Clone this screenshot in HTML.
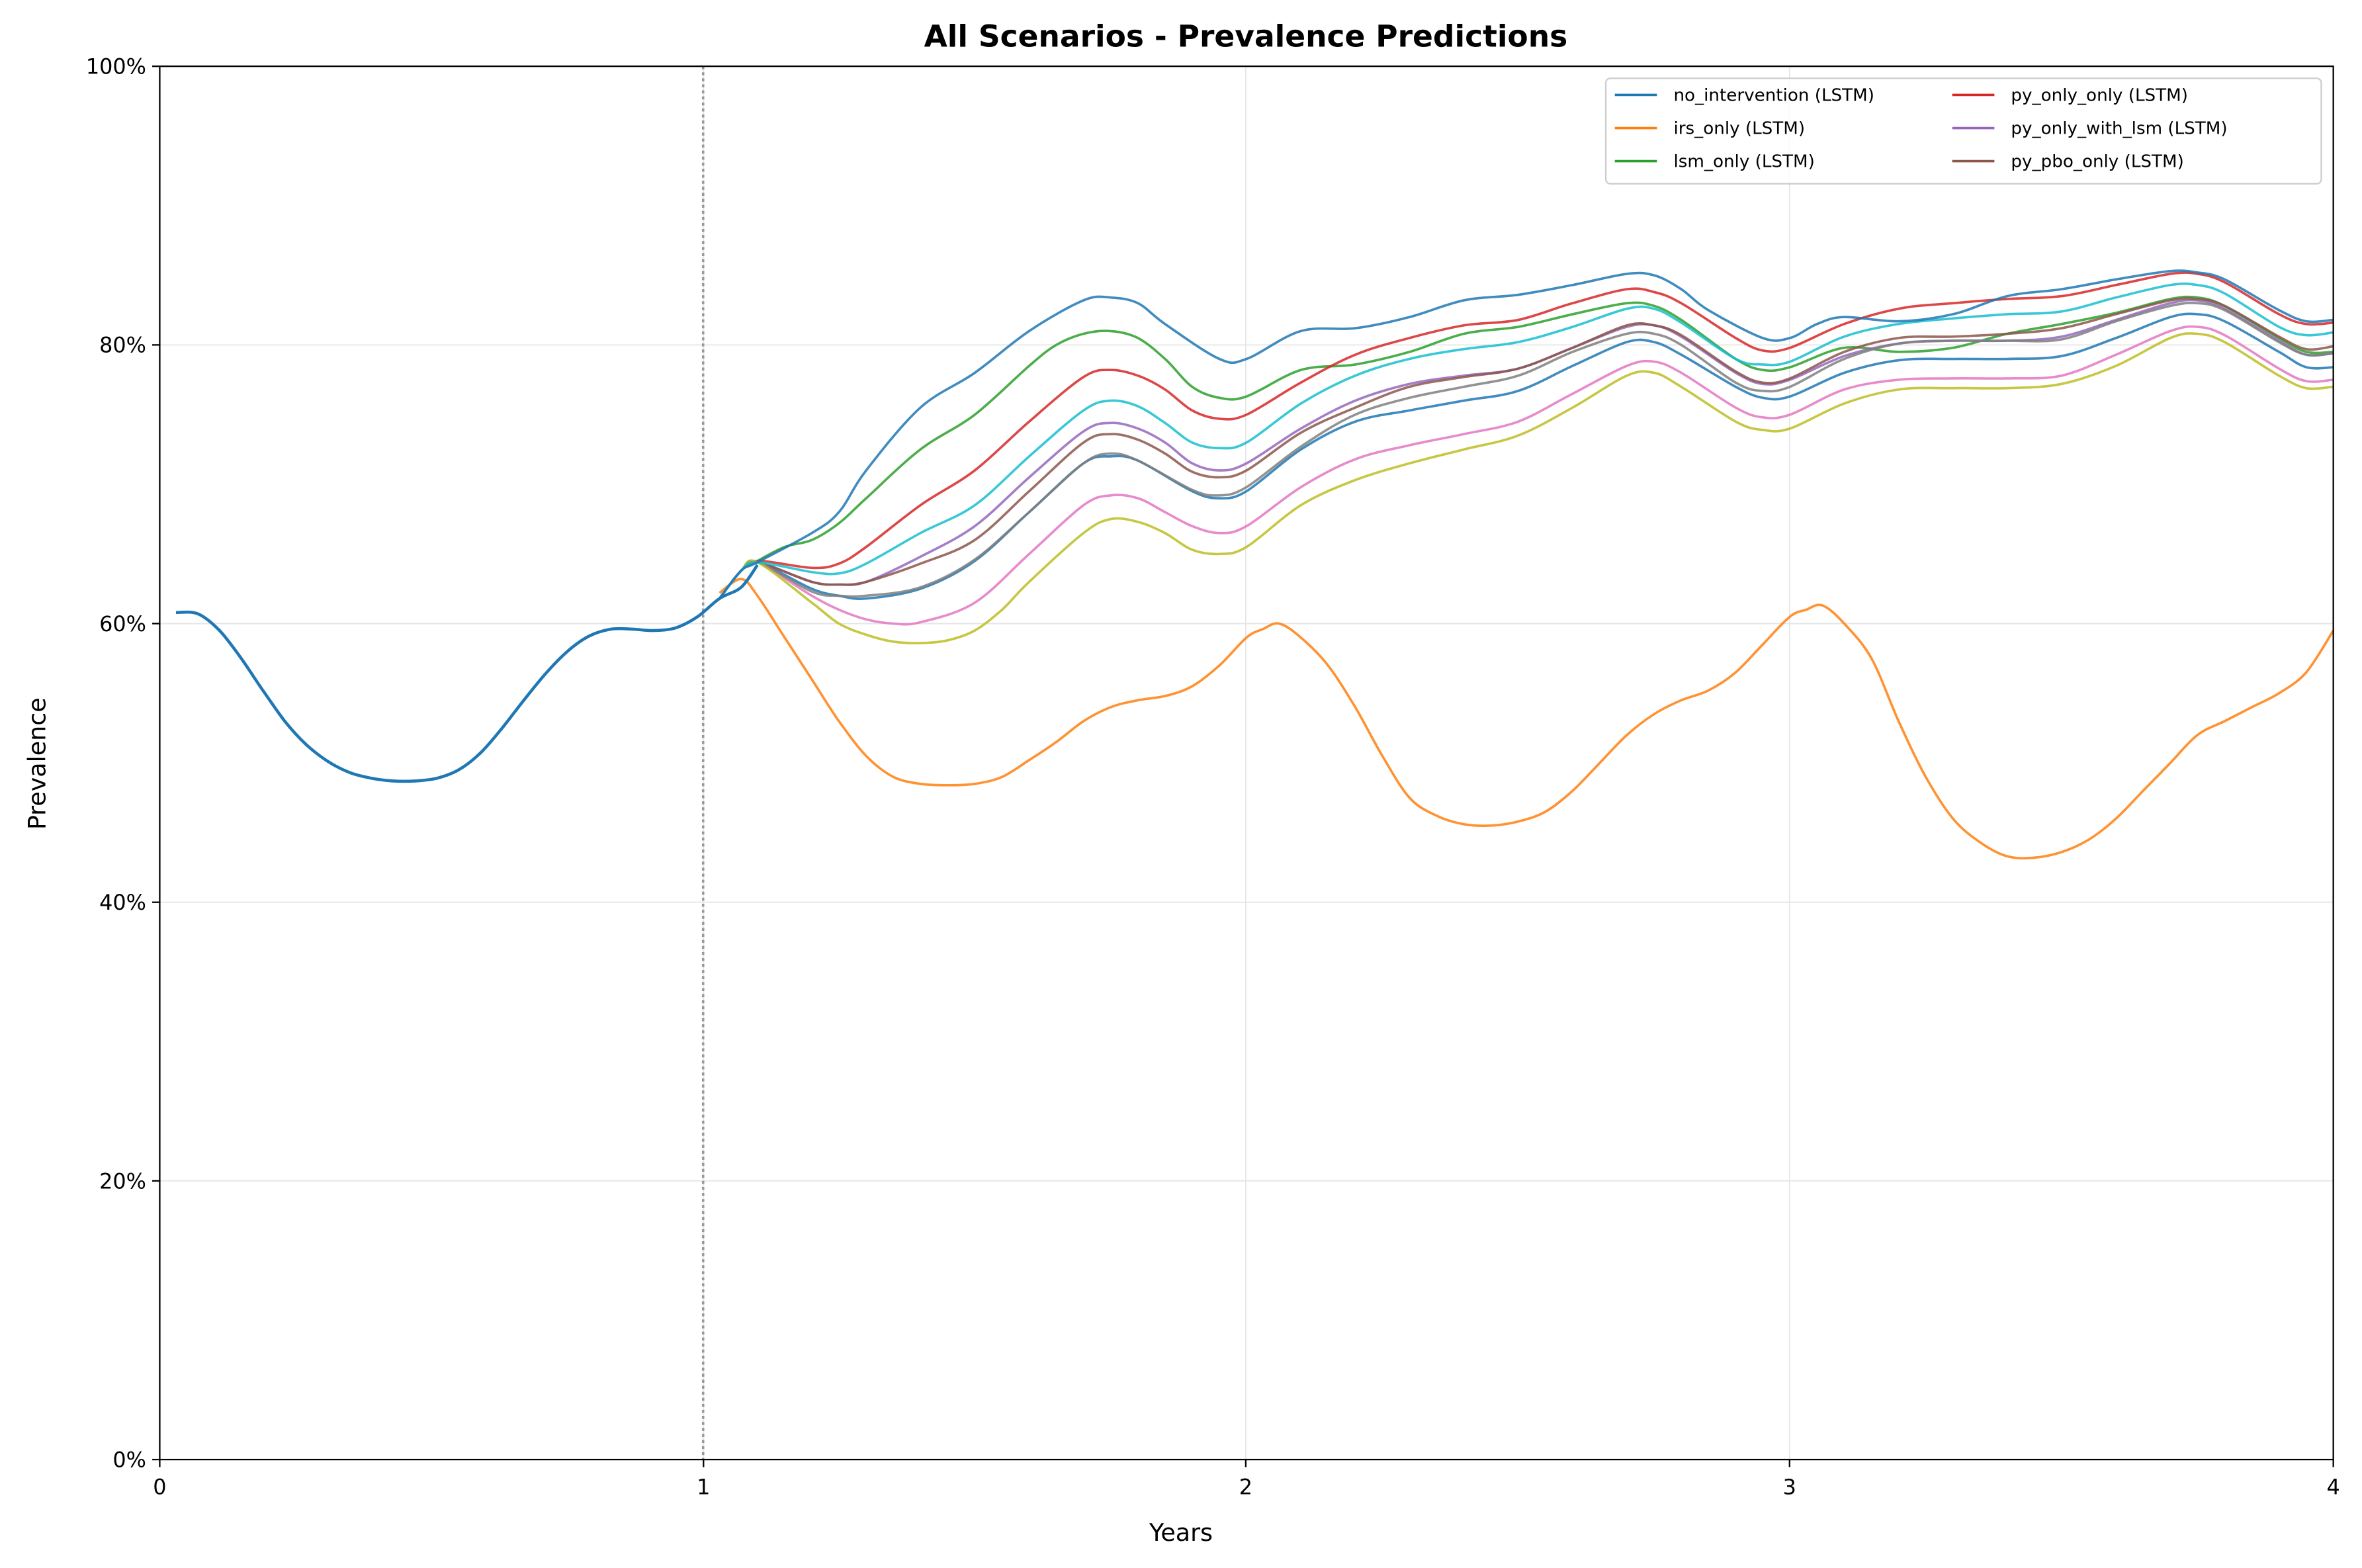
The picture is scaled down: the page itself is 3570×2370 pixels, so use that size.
<!DOCTYPE html>
<html><head><meta charset="utf-8"><style>
html,body{margin:0;padding:0;background:#fff;}
svg{display:block;font-family:"DejaVu Sans","Liberation Sans",sans-serif;}
</style></head><body>
<svg id="s" width="3570" height="2370" viewBox="0 0 1568 1041" xmlns="http://www.w3.org/2000/svg">
<rect width="1568" height="1041" fill="#fff"/>
<g stroke="#e6e6e6" stroke-width="0.8">
<line x1="106" x2="1549" y1="784" y2="784"/><line x1="106" x2="1549" y1="599" y2="599"/>
<line x1="106" x2="1549" y1="414" y2="414"/><line x1="106" x2="1549" y1="229" y2="229"/>
<line x1="467" x2="467" y1="44" y2="969"/><line x1="827" x2="827" y1="44" y2="969"/><line x1="1188" x2="1188" y1="44" y2="969"/>
</g>
<line x1="466.75" x2="466.75" y1="44" y2="969" stroke="#999" stroke-width="1.6" stroke-dasharray="2,2"/>
<g id="lines" fill="none" stroke-width="1.6" stroke-linejoin="round"></g>
<rect x="106" y="44" width="1443" height="925" fill="none" stroke="#000" stroke-width="1"/>
<g stroke="#000" stroke-width="1">
<line x1="106" x2="106" y1="969" y2="974"/><line x1="467" x2="467" y1="969" y2="974"/><line x1="827" x2="827" y1="969" y2="974"/><line x1="1188" x2="1188" y1="969" y2="974"/><line x1="1549" x2="1549" y1="969" y2="974"/>
<line x1="101" x2="106" y1="969" y2="969"/><line x1="101" x2="106" y1="784" y2="784"/><line x1="101" x2="106" y1="599" y2="599"/><line x1="101" x2="106" y1="414" y2="414"/><line x1="101" x2="106" y1="229" y2="229"/><line x1="101" x2="106" y1="44" y2="44"/>
</g>
<g font-size="14" fill="#000" text-anchor="middle">
<text x="106" y="992">0</text><text x="467" y="992">1</text><text x="827" y="992">2</text><text x="1188" y="992">3</text><text x="1549" y="992">4</text>
<text x="784" y="1023" font-size="16">Years</text>
</g>
<g font-size="14" fill="#000" text-anchor="end">
<text x="97" y="974">0%</text><text x="97" y="789">20%</text><text x="97" y="604">40%</text><text x="97" y="419">60%</text><text x="97" y="234">80%</text><text x="97" y="49">100%</text>
</g>
<text x="30" y="507" font-size="16" text-anchor="middle" transform="rotate(-90 30 507)">Prevalence</text>
<text x="827" y="31" font-size="20" font-weight="bold" text-anchor="middle">All Scenarios - Prevalence Predictions</text>
<rect x="1066" y="52" width="475" height="70" rx="3" fill="#fff" fill-opacity="0.85" stroke="#ccc" stroke-width="1"/>
<g font-size="11.5" fill="#000">
<line x1="1072" x2="1100" y1="63" y2="63" stroke="#1f77b4" stroke-width="1.6"/><text x="1111" y="67">no_intervention (LSTM)</text>
<line x1="1072" x2="1100" y1="85" y2="85" stroke="#ff7f0e" stroke-width="1.6"/><text x="1111" y="89">irs_only (LSTM)</text>
<line x1="1072" x2="1100" y1="107" y2="107" stroke="#2ca02c" stroke-width="1.6"/><text x="1111" y="111">lsm_only (LSTM)</text>
<line x1="1296" x2="1324" y1="63" y2="63" stroke="#d62728" stroke-width="1.6"/><text x="1335" y="67">py_only_only (LSTM)</text>
<line x1="1296" x2="1324" y1="85" y2="85" stroke="#9467bd" stroke-width="1.6"/><text x="1335" y="89">py_only_with_lsm (LSTM)</text>
<line x1="1296" x2="1324" y1="107" y2="107" stroke="#8c564b" stroke-width="1.6"/><text x="1335" y="111">py_pbo_only (LSTM)</text>
</g>
</svg>
<script>
function X(t){return 106+t*360.75;}function Y(p){return 969-p*9.25;}
function parse(s){var a=s.trim().split(/[ ,]+/).map(Number),r=[];for(var i=0;i<a.length;i+=2)r.push([X(a[i]),Y(a[i+1])]);return r;}
function path(p){var d="M"+p[0][0].toFixed(1)+","+p[0][1].toFixed(1);for(var i=0;i<p.length-1;i++){var p0=p[Math.max(0,i-1)],p1=p[i],p2=p[i+1],p3=p[Math.min(p.length-1,i+2)];var c1x=p1[0]+(p2[0]-p0[0])/6,c1y=p1[1]+(p2[1]-p0[1])/6,c2x=p2[0]-(p3[0]-p1[0])/6,c2y=p2[1]-(p3[1]-p1[1])/6;d+="C"+c1x.toFixed(1)+","+c1y.toFixed(1)+" "+c2x.toFixed(1)+","+c2y.toFixed(1)+" "+p2[0].toFixed(1)+","+p2[1].toFixed(1);}return d;}
var H="0.03 60.8 0.07 60.7 0.11 59.5 0.15 57.5 0.19 55.2 0.23 53 0.27 51.3 0.31 50.1 0.35 49.3 0.39 48.9 0.43 48.7 0.47 48.7 0.51 48.9 0.55 49.5 0.59 50.7 0.63 52.5 0.67 54.5 0.71 56.4 0.75 58 0.79 59.1 0.83 59.6 0.87 59.6 0.91 59.5 0.95 59.7 0.99 60.5 1.03 61.8 1.07 62.6 1.1 64.2";
var S=[
["#1f77b4","1.03 61.8 1.07 63.8 1.1 64.4 1.2 62.5 1.25 62 1.3 61.8 1.4 62.5 1.5 64.5 1.6 68 1.7 71.5 1.75 72 1.8 71.7 1.9 69.5 1.95 69 2.0 69.5 2.1 72.5 2.2 74.5 2.3 75.3 2.4 76 2.5 76.7 2.6 78.5 2.7 80.2 2.75 80.2 2.8 79.3 2.9 77 2.95 76.2 3.0 76.3 3.1 78 3.2 78.9 3.3 79 3.4 79 3.5 79.2 3.6 80.5 3.7 82 3.75 82.2 3.8 81.7 3.9 79.5 3.95 78.4 4.0 78.4"],
["#ff7f0e","1.03 62.2 1.07 63.2 1.1 62 1.15 59 1.2 56 1.25 53 1.3 50.5 1.35 49 1.4 48.5 1.45 48.4 1.5 48.5 1.55 49 1.6 50.2 1.65 51.5 1.7 53 1.75 54 1.8 54.5 1.85 54.8 1.9 55.5 1.95 57 2.0 59 2.03 59.6 2.06 60 2.1 59 2.15 57 2.2 54 2.25 50.5 2.3 47.5 2.35 46.2 2.4 45.6 2.45 45.5 2.5 45.8 2.55 46.5 2.6 48 2.65 50 2.7 52 2.75 53.5 2.8 54.5 2.85 55.2 2.9 56.5 2.95 58.5 3.0 60.5 3.03 61 3.06 61.3 3.1 60 3.15 57.5 3.2 53 3.25 49 3.3 46 3.35 44.3 3.4 43.3 3.45 43.2 3.5 43.6 3.55 44.5 3.6 46 3.65 48 3.7 50 3.75 52 3.8 53 3.85 54 3.9 55 3.95 56.5 4.0 59.5"],
["#2ca02c","1.03 61.8 1.07 63.8 1.1 64.5 1.15 65.5 1.2 66 1.25 67.2 1.3 69 1.4 72.5 1.5 75 1.6 78.5 1.65 80 1.7 80.8 1.75 81 1.8 80.5 1.85 79 1.9 77 1.95 76.2 2.0 76.3 2.1 78.2 2.2 78.6 2.3 79.5 2.4 80.8 2.5 81.3 2.6 82.2 2.7 83 2.75 82.8 2.8 81.8 2.9 79 2.95 78.2 3.0 78.4 3.1 79.8 3.2 79.5 3.3 79.8 3.4 80.8 3.5 81.5 3.6 82.3 3.7 83.3 3.75 83.4 3.8 82.8 3.9 80.5 3.95 79.5 4.0 79.5"],
["#d62728","1.03 61.8 1.07 63.8 1.1 64.5 1.2 64 1.25 64.3 1.3 65.5 1.4 68.5 1.5 71 1.6 74.5 1.7 77.7 1.75 78.2 1.8 77.8 1.85 76.8 1.9 75.3 1.95 74.7 2.0 75 2.1 77.3 2.2 79.3 2.3 80.5 2.4 81.4 2.5 81.8 2.6 83 2.7 84 2.75 83.8 2.8 83 2.9 80.5 2.95 79.6 3.0 79.8 3.1 81.5 3.2 82.6 3.3 83 3.4 83.3 3.5 83.5 3.6 84.3 3.7 85.1 3.75 85.1 3.8 84.5 3.9 82.2 3.95 81.5 4.0 81.6"],
["#9467bd","1.03 61.8 1.07 63.8 1.1 64.4 1.2 63 1.25 62.8 1.3 63 1.4 64.8 1.5 67 1.6 70.5 1.7 73.8 1.75 74.4 1.8 74 1.85 73 1.9 71.5 1.95 71 2.0 71.5 2.1 74 2.2 76 2.3 77.2 2.4 77.8 2.5 78.3 2.6 79.8 2.7 81.3 2.75 81.4 2.8 80.6 2.9 78 2.95 77.2 3.0 77.5 3.1 79.2 3.2 80.1 3.3 80.3 3.4 80.3 3.5 80.6 3.6 81.8 3.7 83 3.75 83.2 3.8 82.6 3.9 80.3 3.95 79.3 4.0 79.4"],
["#8c564b","1.03 61.8 1.07 63.8 1.1 64.4 1.2 63 1.25 62.8 1.3 63 1.4 64.3 1.5 66 1.6 69.5 1.7 73 1.75 73.6 1.8 73.2 1.85 72.2 1.9 70.9 1.95 70.5 2.0 71 2.1 73.7 2.2 75.5 2.3 77 2.4 77.7 2.5 78.3 2.6 79.8 2.7 81.4 2.75 81.4 2.8 80.7 2.9 78.1 2.95 77.3 3.0 77.6 3.1 79.5 3.2 80.5 3.3 80.6 3.4 80.8 3.5 81.2 3.6 82.2 3.7 83.2 3.75 83.3 3.8 82.8 3.9 80.6 3.95 79.7 4.0 79.9"],
["#e377c2","1.03 61.8 1.07 63.8 1.1 64.4 1.2 62 1.25 61 1.3 60.3 1.35 60 1.4 60.1 1.5 61.5 1.6 65 1.7 68.5 1.75 69.2 1.8 69 1.85 68 1.9 67 1.95 66.5 2.0 67 2.1 69.8 2.2 71.8 2.3 72.8 2.4 73.6 2.5 74.5 2.6 76.5 2.7 78.5 2.75 78.8 2.8 78 2.9 75.5 2.95 74.8 3.0 75 3.1 76.8 3.2 77.5 3.3 77.6 3.4 77.6 3.5 77.8 3.6 79.3 3.7 81 3.75 81.3 3.8 80.7 3.9 78.3 3.95 77.4 4.0 77.5"],
["#7f7f7f","1.03 61.8 1.07 63.8 1.1 64.4 1.2 62.3 1.25 62 1.3 62 1.4 62.6 1.5 64.6 1.6 68 1.7 71.5 1.75 72.2 1.8 71.7 1.9 69.6 1.95 69.2 2.0 69.8 2.1 72.7 2.2 75 2.3 76.2 2.4 77 2.5 77.8 2.6 79.5 2.7 80.8 2.75 80.8 2.8 80 2.9 77.3 2.95 76.7 3.0 77 3.1 79 3.2 80.1 3.3 80.3 3.4 80.3 3.5 80.4 3.6 81.7 3.7 82.8 3.75 83 3.8 82.5 3.9 80.2 3.95 79.3 4.0 79.4"],
["#bcbd22","1.03 61.8 1.07 63.8 1.1 64.4 1.2 61.5 1.25 60 1.3 59.2 1.35 58.7 1.4 58.6 1.45 58.8 1.5 59.5 1.55 61 1.6 63 1.7 66.5 1.75 67.5 1.8 67.3 1.85 66.5 1.9 65.3 1.95 65 2.0 65.5 2.1 68.5 2.2 70.3 2.3 71.5 2.4 72.5 2.5 73.5 2.6 75.5 2.7 77.8 2.75 78 2.8 77 2.9 74.5 2.95 73.9 3.0 74 3.1 75.8 3.2 76.8 3.3 76.9 3.4 76.9 3.5 77.2 3.6 78.5 3.7 80.5 3.75 80.8 3.8 80.2 3.9 77.8 3.95 76.9 4.0 77"],
["#17becf","1.03 61.8 1.07 63.8 1.1 64.4 1.2 63.7 1.25 63.6 1.3 64.3 1.4 66.5 1.5 68.5 1.6 72 1.7 75.3 1.75 76 1.8 75.6 1.85 74.4 1.9 73 1.95 72.6 2.0 73 2.1 75.8 2.2 77.8 2.3 79 2.4 79.7 2.5 80.2 2.6 81.3 2.7 82.6 2.75 82.6 2.8 81.6 2.9 79 2.95 78.6 3.0 78.8 3.1 80.6 3.2 81.5 3.3 81.9 3.4 82.2 3.5 82.4 3.6 83.4 3.7 84.3 3.75 84.3 3.8 83.7 3.9 81.3 3.95 80.7 4.0 80.9"],
["#1f77b4","1.03 61.8 1.07 63.8 1.1 64.4 1.2 66.5 1.25 68 1.3 71 1.4 75.5 1.5 78 1.6 81 1.7 83.2 1.75 83.4 1.8 83 1.85 81.5 1.95 79 2.0 79 2.1 81 2.2 81.2 2.3 82 2.4 83.2 2.5 83.6 2.6 84.3 2.7 85.1 2.75 85 2.8 84 2.85 82.5 2.95 80.5 3.0 80.5 3.05 81.5 3.1 82 3.2 81.7 3.3 82.2 3.4 83.5 3.5 84 3.6 84.7 3.7 85.3 3.75 85.2 3.8 84.7 3.9 82.5 3.95 81.7 4.0 81.8"]
];
var g=document.getElementById("lines"),ns="http://www.w3.org/2000/svg";
S.forEach(function(s){var e=document.createElementNS(ns,"path");e.setAttribute("d",path(parse(s[1])));e.setAttribute("stroke",s[0]);e.setAttribute("stroke-opacity","0.85");g.appendChild(e);});
var h=document.createElementNS(ns,"path");h.setAttribute("d",path(parse(H)));h.setAttribute("stroke","#1f77b4");h.setAttribute("stroke-width","2");g.appendChild(h);
</script>
</body></html>
